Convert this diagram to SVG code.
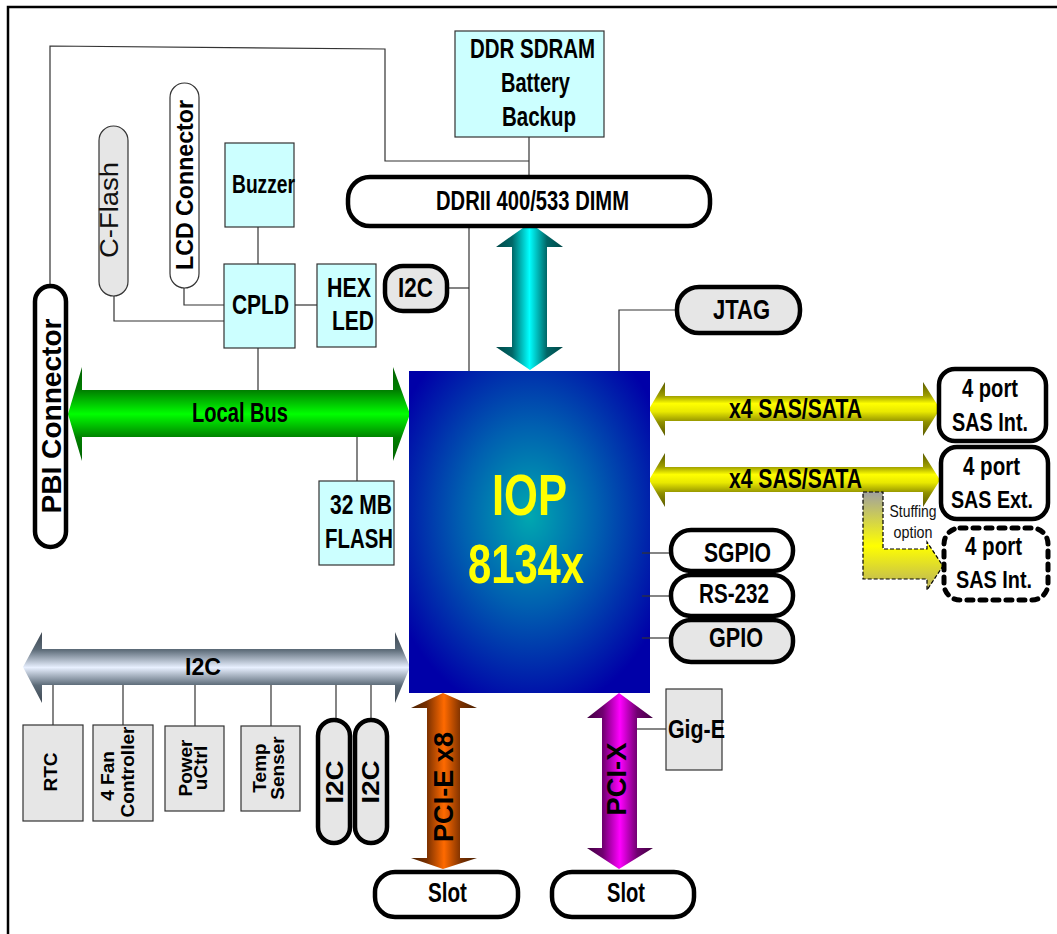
<svg xmlns="http://www.w3.org/2000/svg" width="1057" height="934" viewBox="0 0 1057 934">
<defs>
<style>
.t{font-family:"Liberation Sans",Arial,sans-serif;font-weight:bold;fill:#000;text-anchor:middle}
.n{font-family:"Liberation Sans",Arial,sans-serif;font-weight:normal;fill:#111;text-anchor:middle}
.w{stroke:#333;stroke-width:1.2;fill:none}
.cy{fill:#ccffff;stroke:#333;stroke-width:1.2}
.gr{fill:#e6e6e6;stroke:#333;stroke-width:1.2}
.pw{fill:#fff;stroke:#000;stroke-width:4.5}
.pg{fill:#e6e6e6;stroke:#000;stroke-width:4.5}
</style>
<linearGradient id="gGreen" x1="0" y1="0" x2="0" y2="1"><stop offset="0" stop-color="#006000"/><stop offset="0.25" stop-color="#008000"/><stop offset="0.5" stop-color="#00ff00"/><stop offset="0.75" stop-color="#008000"/><stop offset="1" stop-color="#006000"/></linearGradient>
<linearGradient id="gYel" x1="0" y1="0" x2="0" y2="1"><stop offset="0" stop-color="#5a5a00"/><stop offset="0.26" stop-color="#a0a000"/><stop offset="0.4" stop-color="#ffff00"/><stop offset="0.55" stop-color="#e8e800"/><stop offset="0.74" stop-color="#909000"/><stop offset="1" stop-color="#5a5a00"/></linearGradient>
<linearGradient id="gGray" x1="0" y1="0" x2="0" y2="1"><stop offset="0" stop-color="#3e4852"/><stop offset="0.25" stop-color="#5c6b78"/><stop offset="0.5" stop-color="#e8f0ff"/><stop offset="0.75" stop-color="#5c6b78"/><stop offset="1" stop-color="#3e4852"/></linearGradient>
<linearGradient id="gCyan" x1="0" y1="0" x2="1" y2="0"><stop offset="0" stop-color="#004848"/><stop offset="0.24" stop-color="#006666"/><stop offset="0.5" stop-color="#00ffff"/><stop offset="0.76" stop-color="#006666"/><stop offset="1" stop-color="#004848"/></linearGradient>
<linearGradient id="gOr" x1="0" y1="0" x2="1" y2="0"><stop offset="0" stop-color="#4a2000"/><stop offset="0.24" stop-color="#7a3000"/><stop offset="0.5" stop-color="#ff6a00"/><stop offset="0.76" stop-color="#7a3000"/><stop offset="1" stop-color="#4a2000"/></linearGradient>
<linearGradient id="gMag" x1="0" y1="0" x2="1" y2="0"><stop offset="0" stop-color="#400040"/><stop offset="0.24" stop-color="#700070"/><stop offset="0.5" stop-color="#ff00ff"/><stop offset="0.76" stop-color="#700070"/><stop offset="1" stop-color="#400040"/></linearGradient>
<linearGradient id="gStuff" x1="0" y1="0" x2="0" y2="1"><stop offset="0" stop-color="#a0a0a0"/><stop offset="0.55" stop-color="#ffff00"/><stop offset="1" stop-color="#b8b060"/></linearGradient>
<radialGradient id="gIOP" cx="0.5" cy="0.45" r="0.62"><stop offset="0" stop-color="#00a8b0"/><stop offset="0.45" stop-color="#0060b0"/><stop offset="1" stop-color="#0000a8"/></radialGradient>
</defs>
<rect width="1057" height="934" fill="#fff"/>
<g id="frame"><path d="M8,934 V7 H1057" fill="none" stroke="#000" stroke-width="2.5"/></g>

<g id="connectors">
<polyline class="w" points="50,286 50,46 385,49 385,161 529,161"/>
<line class="w" x1="529" y1="137" x2="529" y2="177"/>
<polyline class="w" points="184,288 184,305 224,305"/>
<polyline class="w" points="114,296 114,321 224,321"/>
<line class="w" x1="258" y1="227" x2="258" y2="264"/>
<line class="w" x1="295" y1="305" x2="317" y2="305"/>
<line class="w" x1="258" y1="348" x2="258" y2="390"/>
<line class="w" x1="448" y1="288" x2="469" y2="288"/>
<line class="w" x1="469" y1="226" x2="469" y2="371"/>
<polyline class="w" points="677,310 619,310 619,371"/>
<line class="w" x1="357" y1="437" x2="357" y2="481"/>
<line class="w" x1="53" y1="685" x2="53" y2="725"/>
<line class="w" x1="123" y1="685" x2="123" y2="725"/>
<line class="w" x1="195" y1="685" x2="195" y2="726"/>
<line class="w" x1="271" y1="685" x2="271" y2="726"/>
<line class="w" x1="336" y1="685" x2="336" y2="720"/>
<line class="w" x1="371" y1="685" x2="371" y2="720"/>
<line class="w" x1="637" y1="729" x2="666" y2="729"/>
<polygon fill="url(#gGreen)" points="68,414 82,367 82,390 393,390 393,367 410,414 393,461 393,437 82,437 82,461"/>
<polygon fill="url(#gYel)" points="649,409 665,382 665,396 923,396 923,382 940,409 923,436 923,421 665,421 665,436"/>
<polygon fill="url(#gYel)" points="649,480 665,453 665,467 923,467 923,453 940,480 923,507 923,492 665,492 665,507"/>
<polygon fill="url(#gGray)" points="23,667 42,632 42,649 395,649 395,632 410,667 395,703 395,685 42,685 42,703"/>
<polygon fill="url(#gCyan)" points="530,223 563,247 547,247 547,347 563,347 530,370 496,347 512,347 512,247 496,247"/>
<polygon fill="url(#gOr)" points="443,693 477,708 460,708 460,858 477,858 443,869 411,858 427,858 427,708 411,708"/>
<polygon fill="url(#gMag)" points="619,693 653,718 637,718 637,848 653,848 619,869 587,848 602,848 602,718 587,718"/>
<polygon fill="url(#gStuff)" stroke="#000" stroke-width="1.2" stroke-dasharray="4 2" points="863,492 883,492 883,549 927,549 927,542 943,566 927,590 927,579 863,579"/>
<text class="t" x="240" y="422" font-size="27" textLength="96" lengthAdjust="spacingAndGlyphs">Local Bus</text>
<text class="t" x="795.5" y="418" font-size="27" textLength="133" lengthAdjust="spacingAndGlyphs">x4 SAS/SATA</text>
<text class="t" x="795.5" y="488" font-size="27" textLength="133" lengthAdjust="spacingAndGlyphs">x4 SAS/SATA</text>
<text class="t" x="203" y="675" font-size="23" textLength="36" lengthAdjust="spacingAndGlyphs">I2C</text>
<text class="t" transform="translate(453,787) rotate(-90)" font-size="27" textLength="110" lengthAdjust="spacingAndGlyphs">PCI-E x8</text>
<text class="t" transform="translate(626,779) rotate(-90)" font-size="27" textLength="73" lengthAdjust="spacingAndGlyphs">PCI-X</text>
<text class="n" x="913" y="517" font-size="17" textLength="47" lengthAdjust="spacingAndGlyphs">Stuffing</text>
<text class="n" x="913" y="538" font-size="17" textLength="39" lengthAdjust="spacingAndGlyphs">option</text>
</g>

<g id="ddr-battery"><rect class="cy" x="455" y="31" width="149" height="106"/>
<text class="t" x="532.5" y="58" font-size="27" textLength="125" lengthAdjust="spacingAndGlyphs">DDR SDRAM</text>
<text class="t" x="535.5" y="92" font-size="27" textLength="69" lengthAdjust="spacingAndGlyphs">Battery</text>
<text class="t" x="539" y="126" font-size="27" textLength="74" lengthAdjust="spacingAndGlyphs">Backup</text></g>

<g id="dimm"><rect class="pw" x="348" y="177" width="362" height="49" rx="22" stroke-width="5"/>
<text class="t" x="532.5" y="210" font-size="28" textLength="193" lengthAdjust="spacingAndGlyphs">DDRII 400/533 DIMM</text></g>

<g id="pbi"><rect class="pw" x="35" y="286" width="31" height="261" rx="15.5" stroke-width="5"/>
<text class="t" transform="translate(61,416) rotate(-90)" font-size="28" textLength="195" lengthAdjust="spacingAndGlyphs">PBI Connector</text></g>

<g id="cflash"><rect class="gr" x="99" y="126" width="29" height="170" rx="14.5"/>
<text class="n" transform="translate(118,210) rotate(-90)" font-size="26" textLength="96" lengthAdjust="spacingAndGlyphs">C-Flash</text></g>

<g id="lcd"><rect x="170" y="83" width="29" height="205" rx="14.5" fill="#fff" stroke="#333" stroke-width="1.2"/>
<text class="t" transform="translate(193,185) rotate(-90)" font-size="23" textLength="170" lengthAdjust="spacingAndGlyphs">LCD Connector</text></g>

<g id="buzzer"><rect class="cy" x="225" y="143" width="69" height="84"/>
<text class="t" x="263.5" y="193" font-size="26" textLength="63" lengthAdjust="spacingAndGlyphs">Buzzer</text></g>

<g id="cpld"><rect class="cy" x="224" y="264" width="71" height="84"/>
<text class="t" x="260.5" y="314" font-size="27" textLength="57" lengthAdjust="spacingAndGlyphs">CPLD</text></g>

<g id="hexled"><rect class="cy" x="317" y="264" width="59" height="83"/>
<text class="t" x="349" y="297" font-size="27" textLength="44" lengthAdjust="spacingAndGlyphs">HEX</text>
<text class="t" x="353" y="330" font-size="27" textLength="42" lengthAdjust="spacingAndGlyphs">LED</text></g>

<g id="i2c-top"><rect class="pg" x="385" y="266" width="62" height="45" rx="18"/>
<text class="t" x="415.5" y="297" font-size="27" textLength="35" lengthAdjust="spacingAndGlyphs">I2C</text></g>

<g id="jtag"><rect class="pg" x="677" y="287" width="123" height="46" rx="22"/>
<text class="t" x="741.5" y="319" font-size="27" textLength="57" lengthAdjust="spacingAndGlyphs">JTAG</text></g>

<g id="flash"><rect class="cy" x="319" y="481" width="75" height="84"/>
<text class="t" x="361" y="514" font-size="27" textLength="62" lengthAdjust="spacingAndGlyphs">32 MB</text>
<text class="t" x="359" y="548" font-size="27" textLength="68" lengthAdjust="spacingAndGlyphs">FLASH</text></g>

<g id="iop"><rect x="409" y="371" width="241" height="322" fill="url(#gIOP)"/>
<text class="t" x="529.5" y="515" font-size="58" textLength="75" lengthAdjust="spacingAndGlyphs" style="fill:#ffff00">IOP</text>
<text class="t" x="526" y="583" font-size="56" textLength="116" lengthAdjust="spacingAndGlyphs" style="fill:#ffff00">8134x</text></g>

<g id="io-lines">
<line class="w" x1="642" y1="553" x2="671" y2="553"/>
<line class="w" x1="642" y1="596" x2="671" y2="596"/>
<line class="w" x1="642" y1="638" x2="671" y2="638"/>
</g>

<g id="sgpio"><rect class="pw" x="671" y="530" width="122" height="41" rx="20"/>
<text class="t" x="737.5" y="562" font-size="27" textLength="67" lengthAdjust="spacingAndGlyphs">SGPIO</text></g>
<g id="rs232"><rect class="pw" x="671" y="575" width="122" height="41" rx="20"/>
<text class="t" x="734" y="603" font-size="27" textLength="70" lengthAdjust="spacingAndGlyphs">RS-232</text></g>
<g id="gpio"><rect class="pg" x="671" y="620" width="122" height="42" rx="20"/>
<text class="t" x="736" y="647" font-size="27" textLength="54" lengthAdjust="spacingAndGlyphs">GPIO</text></g>

<g id="sas-int"><rect class="pw" x="939" y="369" width="107" height="72" rx="16"/>
<text class="t" x="990" y="397" font-size="26" textLength="56" lengthAdjust="spacingAndGlyphs">4 port</text>
<text class="t" x="990" y="431" font-size="25" textLength="76" lengthAdjust="spacingAndGlyphs">SAS Int.</text></g>
<g id="sas-ext"><rect class="pw" x="941" y="447" width="107" height="72" rx="16"/>
<text class="t" x="991.5" y="475" font-size="26" textLength="57" lengthAdjust="spacingAndGlyphs">4 port</text>
<text class="t" x="992" y="508" font-size="23" textLength="82" lengthAdjust="spacingAndGlyphs">SAS Ext.</text></g>
<g id="sas-int-opt"><rect x="944" y="528" width="104" height="72" rx="16" fill="#fff" stroke="#000" stroke-width="5" stroke-dasharray="6 7" stroke-linecap="round"/>
<text class="t" x="993.5" y="555" font-size="26" textLength="57" lengthAdjust="spacingAndGlyphs">4 port</text>
<text class="t" x="994" y="588" font-size="24" textLength="76" lengthAdjust="spacingAndGlyphs">SAS Int.</text></g>

<g id="rtc"><rect class="gr" x="23" y="725" width="60" height="96"/>
<text class="t" transform="translate(57,772) rotate(-90)" font-size="19">RTC</text></g>
<g id="fan"><rect class="gr" x="93" y="725" width="60" height="96"/>
<text class="t" transform="translate(114,776) rotate(-90)" font-size="19">4 Fan</text>
<text class="t" transform="translate(134,772) rotate(-90)" font-size="19">Controller</text></g>
<g id="power"><rect class="gr" x="165" y="726" width="59" height="85"/>
<text class="t" transform="translate(192,768) rotate(-90)" font-size="19">Power</text>
<text class="t" transform="translate(207,768) rotate(-90)" font-size="19">uCtrl</text></g>
<g id="temp"><rect class="gr" x="241" y="726" width="59" height="85"/>
<text class="t" transform="translate(266,768) rotate(-90)" font-size="19">Temp</text>
<text class="t" transform="translate(284,768) rotate(-90)" font-size="19">Senser</text></g>
<g id="i2c-a"><rect class="pg" x="318" y="720" width="32" height="123" rx="16" stroke-width="3.5"/>
<text class="t" transform="translate(343,782) rotate(-90)" font-size="24" textLength="43" lengthAdjust="spacingAndGlyphs">I2C</text></g>
<g id="i2c-b"><rect class="pg" x="355" y="720" width="32" height="123" rx="16" stroke-width="3.5"/>
<text class="t" transform="translate(379,782) rotate(-90)" font-size="24" textLength="43" lengthAdjust="spacingAndGlyphs">I2C</text></g>

<g id="gige"><rect class="gr" x="666" y="689" width="56" height="81"/>
<text class="t" x="696.5" y="738" font-size="26" textLength="57" lengthAdjust="spacingAndGlyphs">Gig-E</text></g>

<g id="slot1"><rect class="pw" x="375" y="872" width="143" height="45" rx="20"/>
<text class="t" x="447.5" y="902" font-size="27" textLength="39" lengthAdjust="spacingAndGlyphs">Slot</text></g>
<g id="slot2"><rect class="pw" x="552" y="872" width="142" height="45" rx="20"/>
<text class="t" x="626" y="902" font-size="27" textLength="38" lengthAdjust="spacingAndGlyphs">Slot</text></g>
</svg>
